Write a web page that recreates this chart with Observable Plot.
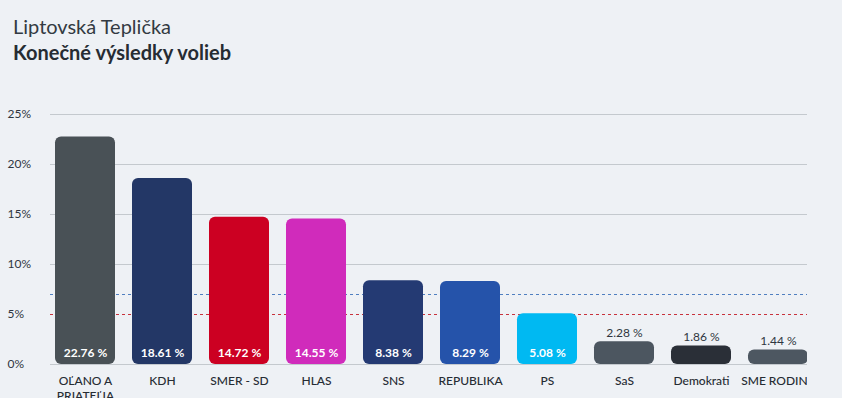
<!DOCTYPE html>
<html>
<head>
<meta charset="utf-8">
<script src="https://cdn.jsdelivr.net/npm/d3@7"></script>
<script src="https://cdn.jsdelivr.net/npm/@observablehq/plot@0.6"></script>
<style>
  html, body { margin: 0; padding: 0; background: #eef1f5; }
  body { width: 842px; height: 398px; overflow: hidden; font-family: Lato, "Noto Sans", sans-serif; }
  #head { height: 80px; position: relative; }
  #title { position: absolute; left: 13px; top: 14px; font-size: 20px; color: #333a42; font-weight: 400; }
  #subtitle { position: absolute; left: 13px; top: 40px; font-size: 20px; color: #262c33; font-weight: 700; }
  #chart { width: 807px; height: 318px; overflow: hidden; }
  #chart svg { display: block; max-width: none !important; }
</style>
</head>
<body>
<div id="head">
  <div id="title">Liptovská Teplička</div>
  <div id="subtitle">Konečné výsledky volieb</div>
</div>
<div id="chart"></div>
<script>
const parties = ["OĽANO A PRIATEĽIA", "KDH", "SMER - SD", "HLAS", "SNS", "REPUBLIKA", "PS", "SaS", "Demokrati", "SME RODINA"];
const tickLabels = ["OĽANO A\nPRIATEĽIA", "KDH", "SMER - SD", "HLAS", "SNS", "REPUBLIKA", "PS", "SaS", "Demokrati", "SME RODINA"];
const values = [22.76, 18.61, 14.72, 14.55, 8.38, 8.29, 5.08, 2.28, 1.86, 1.44];
const colors = ["#495156", "#233766", "#cc0022", "#d02bbb", "#243a73", "#2553aa", "#00b9f2", "#4c5660", "#2a2f37", "#4d5761"];
const yTicks = [0, 5, 10, 15, 20, 25];
const gridTicks = [0, 10, 15, 20, 25];
const thresholds = [5, 7];
const thresholdColors = ["#c8323c", "#4f7fc0"];

const data = parties.map((p, i) => ({party: p, value: values[i], color: colors[i], label: tickLabels[i]}));
const labelMap = new Map(data.map(d => [d.party, d.label]));
const fmt = v => v.toFixed(2) + " %";
const inside = data.filter(d => d.value >= 4);
const outside = data.filter(d => d.value < 4);

const chart = Plot.plot({
  width: 842,
  height: 318,
  marginLeft: 50,
  marginRight: 29,
  marginTop: 34,
  marginBottom: 34,
  style: {background: "transparent", fontFamily: "Lato, 'Noto Sans', sans-serif", fontSize: "12px", color: "#2f3640", maxWidth: "none"},
  x: {domain: parties, paddingInner: 0.2208, paddingOuter: 0.065, round: false, label: null},
  y: {domain: [0, 25], label: null},
  marks: [
    Plot.gridY(gridTicks, {stroke: "#c4c9ce", strokeOpacity: 1}),
    Plot.ruleY(thresholds, {stroke: (d, i) => thresholdColors[i], strokeDasharray: "3,3", strokeWidth: 1}),
    Plot.barY(data, {x: "party", y: "value", fill: "color", rx: 6}),
    Plot.text(inside, {x: "party", y: 0, dy: -11, text: d => fmt(d.value), fill: "white", fontWeight: "bold", fontSize: 12}),
    Plot.text(outside, {x: "party", y: "value", dy: -9, text: d => fmt(d.value), fill: "#2f3640", fontSize: 12}),
    Plot.axisY(yTicks, {tickSize: 0, textAnchor: "start", dx: -34, tickFormat: d => d + "%", fill: "#2f3640", fontSize: 12}),
    Plot.axisX({tickSize: 0, tickPadding: 10, tickFormat: d => labelMap.get(d), fill: "#262c33", fontSize: 12, fontWeight: 500, lineHeight: 1.25})
  ]
});
document.getElementById("chart").appendChild(chart);
</script>
</body>
</html>
